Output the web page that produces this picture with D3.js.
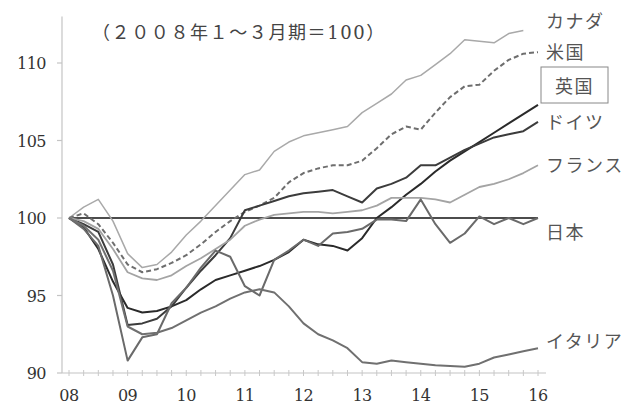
<!DOCTYPE html>
<html><head><meta charset="utf-8">
<script src="https://cdn.jsdelivr.net/npm/d3@7/dist/d3.min.js"></script>
<style>
html,body{margin:0;padding:0;background:#fff;}
svg{display:block;}
</style></head><body>
<svg id="chart" width="641" height="405"></svg>
<script>
// Real GDP index, 2008 Q1 = 100, quarterly from 2008 Q1
const yearTicks = [2008, 2009, 2010, 2011, 2012, 2013, 2014, 2015, 2016];
const yearTickLabels = ["08", "09", "10", "11", "12", "13", "14", "15", "16"];
const valueTicks = [90, 95, 100, 105, 110];
const baseLevel = 100;
const titleText = "（２００８年１～３月期＝100）";

const canada  = [100,100.7,101.2,99.8,97.7,96.8,97.0,97.8,98.9,99.8,100.8,101.8,102.8,103.1,104.3,104.9,105.3,105.5,105.7,105.9,106.8,107.4,108.0,108.9,109.2,109.9,110.6,111.5,111.4,111.3,111.9,112.1];
const us      = [100,100.3,99.6,98.4,97.0,96.5,96.7,97.1,97.6,98.3,99.1,99.8,100.4,100.8,101.3,102.3,102.9,103.2,103.4,103.4,103.7,104.5,105.4,105.9,105.7,106.8,107.8,108.5,108.6,109.5,110.2,110.6,110.7];
const uk      = [100,99.4,98.0,95.9,94.2,93.9,94.0,94.3,94.7,95.4,96.0,96.3,96.6,96.9,97.3,97.8,98.6,98.3,98.2,97.9,98.7,100.0,100.7,101.5,102.2,103.0,103.7,104.3,104.9,105.5,106.1,106.7,107.3];
const germany = [100,99.6,99.1,97.0,93.1,93.2,93.5,94.3,95.5,96.6,97.6,98.7,100.5,100.8,101.1,101.4,101.6,101.7,101.8,101.4,101.0,101.9,102.2,102.6,103.4,103.4,103.9,104.4,104.8,105.2,105.4,105.6,106.2];
const france  = [100,99.8,99.3,98.0,96.5,96.1,96.0,96.3,96.9,97.4,98.0,98.6,99.5,99.9,100.2,100.3,100.4,100.4,100.3,100.4,100.5,100.8,101.3,101.3,101.3,101.2,101.0,101.5,102.0,102.2,102.5,102.9,103.4];
const japan   = [100,99.3,98.2,95.0,90.8,92.3,92.5,94.5,95.5,96.8,97.9,97.5,95.6,95.0,97.3,97.9,98.6,98.2,99.0,99.1,99.3,99.9,99.9,99.8,101.2,99.6,98.4,99.0,100.1,99.6,100.0,99.6,100.0];
const italy   = [100,99.5,98.6,96.6,93.0,92.5,92.6,92.9,93.4,93.9,94.3,94.8,95.2,95.4,95.2,94.3,93.2,92.5,92.1,91.6,90.7,90.6,90.8,90.7,90.6,90.5,90.45,90.4,90.6,91.0,91.2,91.4,91.6];

const seriesNames = ["カナダ", "米国", "英国", "ドイツ", "フランス", "日本", "イタリア"];
const seriesValues = [canada, us, uk, germany, france, japan, italy];

// Line styles per series, in the same order as the names
const styles = [
  {color: "#a9a9a9", width: 1.5, dash: null},
  {color: "#6e6e6e", width: 2,   dash: "5,3"},
  {color: "#2a2a2a", width: 2,   dash: null},
  {color: "#3c3c3c", width: 2,   dash: null},
  {color: "#a4a4a4", width: 1.8, dash: null},
  {color: "#6a6a6a", width: 2,   dash: null},
  {color: "#707070", width: 2,   dash: null}
];
// Pixel baselines of the right-hand labels
const labelLayout = [
  {y: 28}, {y: 59}, {y: 93, boxed: true}, {y: 129}, {y: 172}, {y: 239}, {y: 348}
];

const serif = "DejaVu Serif";
const jp = "Noto Sans CJK JP";

const svg = d3.select("#chart");
const x = d3.scaleLinear().domain([2008, 2016]).range([69, 538]);
const y = d3.scaleLinear().domain([90, 113]).range([373, 16.5]);
const axisLeftX = 62, axisRightX = 546;

// axes
svg.append("line").attr("x1", axisLeftX).attr("x2", axisLeftX)
  .attr("y1", y(113)).attr("y2", y(90))
  .attr("stroke", "#c4c4c4").attr("stroke-width", 1.2);
svg.append("line").attr("x1", axisLeftX).attr("x2", axisRightX)
  .attr("y1", y(90)).attr("y2", y(90))
  .attr("stroke", "#c4c4c4").attr("stroke-width", 1.2);

const minorTicks = d3.range(0, 33).map(i => 2008 + i / 4);
svg.append("g").selectAll("line").data(minorTicks).join("line")
  .attr("x1", d => x(d)).attr("x2", d => x(d))
  .attr("y1", y(90) - 3).attr("y2", y(90) + 3)
  .attr("stroke", "#c8c8c8").attr("stroke-width", 1);

svg.append("g").selectAll("line").data(valueTicks).join("line")
  .attr("x1", axisLeftX - 5).attr("x2", axisLeftX)
  .attr("y1", d => y(d)).attr("y2", d => y(d))
  .attr("stroke", "#c4c4c4").attr("stroke-width", 1.2);

svg.append("g").selectAll("text").data(valueTicks).join("text")
  .attr("x", 46).attr("y", d => y(d) + 6)
  .attr("text-anchor", "end")
  .style("font-family", serif)
  .attr("font-size", 16).attr("letter-spacing", -0.5).attr("fill", "#333")
  .text(d => d);

svg.append("g").selectAll("text").data(yearTicks).join("text")
  .attr("x", d => x(d)).attr("y", 401)
  .attr("text-anchor", "middle")
  .style("font-family", serif)
  .attr("font-size", 16).attr("letter-spacing", -0.5).attr("fill", "#333")
  .text((d, i) => yearTickLabels[i]);

// base line at 100
svg.append("line").attr("x1", x(2008)).attr("x2", x(2016))
  .attr("y1", y(baseLevel)).attr("y2", y(baseLevel))
  .attr("stroke", "#111").attr("stroke-width", 1.6);

// series lines
const line = d3.line().x((d, i) => x(2008 + i / 4)).y(d => y(d));
seriesValues.forEach((vals, k) => {
  const s = styles[k];
  svg.append("path").datum(vals)
    .attr("d", line)
    .attr("fill", "none")
    .attr("stroke", s.color)
    .attr("stroke-width", s.width)
    .attr("stroke-linejoin", "round")
    .attr("stroke-dasharray", s.dash);
});

// series labels
seriesNames.forEach((name, k) => {
  const L = labelLayout[k];
  if (L.boxed) {
    svg.append("rect")
      .attr("x", 541).attr("y", 67).attr("width", 67).attr("height", 36)
      .attr("fill", "#fff").attr("stroke", "#888").attr("stroke-width", 1);
  }
  svg.append("text")
    .attr("x", L.boxed ? 555 : 546).attr("y", L.y)
    .style("font-family", jp)
    .attr("font-size", 18).attr("letter-spacing", 1.5)
    .attr("fill", "#555")
    .text(name);
});

// title
svg.append("text")
  .attr("x", 92).attr("y", 39)
  .style("font-family", serif + ", " + jp)
  .attr("font-size", 18).attr("letter-spacing", 1.6).attr("fill", "#444")
  .text(titleText);
</script>
</body></html>
